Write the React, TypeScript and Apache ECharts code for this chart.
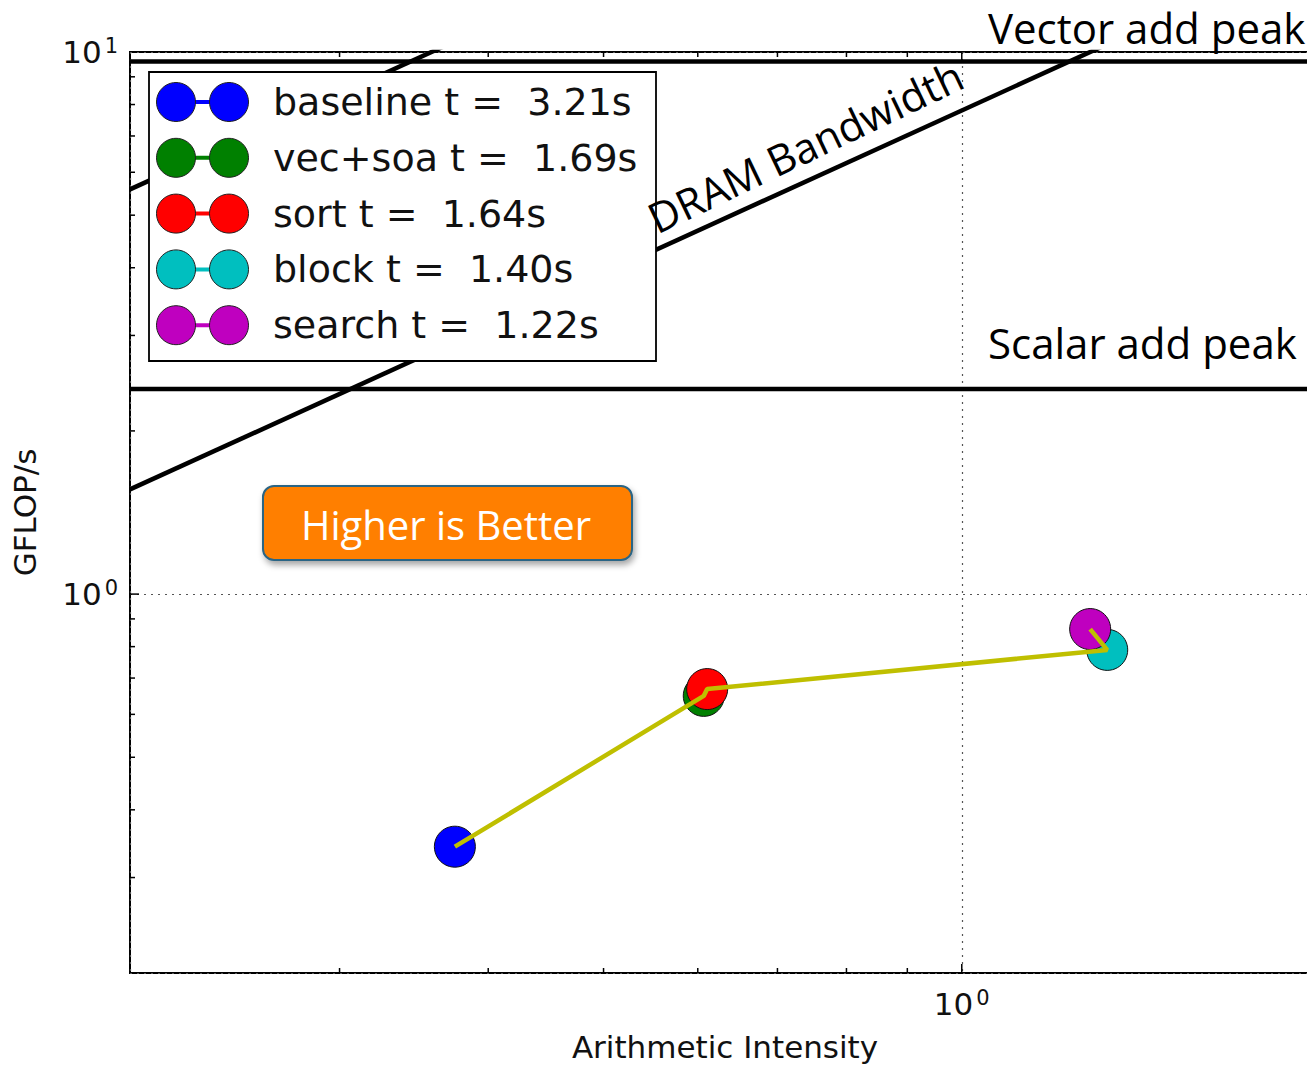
import React, { useEffect, useRef } from 'react';
import * as echarts from 'echarts';

// ---- data ----
const seriesNames = ['baseline', 'vec+soa', 'sort', 'block', 'search'];
const runTimes = ['3.21s', '1.69s', '1.64s', '1.40s', '1.22s'];
const intensity = [0.375, 0.607, 0.611, 1.325, 1.282];
const gflops = [0.342, 0.649, 0.668, 0.789, 0.862];
const colors = ['#0000ff', '#008000', '#ff0000', '#00bfbf', '#bf00bf'];

const vectorPeak = 9.6;
const scalarPeak = 2.39;
const dramBandwidth = 7.8;
const cacheBandwidth = 27.9;

const xRange = [0.2, 2];
const yRange = [0.2, 10];
const xMajorTicks = [1];
const xMinorTicks = [0.3, 0.4, 0.5, 0.6, 0.7, 0.8, 0.9];
const yMajorTicks = [1];
const yMinorTicks = [0.3, 0.4, 0.5, 0.6, 0.7, 0.8, 0.9, 2, 3, 4, 5, 6, 7, 8, 9];

const MPL = 'DejaVu Sans';
const PPT = 'Open Sans';

function pow10Label(v: number) {
  const e = Math.log10(v);
  if (Math.abs(e - Math.round(e)) > 1e-6) return '';
  return `{b|10}{s|${Math.round(e)}}`;
}

const labelRich = {
  b: { fontSize: 31, fontFamily: MPL, color: '#111' },
  s: { fontSize: 21, fontFamily: MPL, color: '#111', verticalAlign: 'top', padding: [0, 0, 12, 3] },
};

function buildOption() {
  const tickStyle = { stroke: '#000', lineWidth: 1.5 };
  const xTickData = xMinorTicks.map((v) => [v, yRange[0], 0]).concat(xMajorTicks.map((v) => [v, yRange[0], 1]));
  const yTickData = yMinorTicks.map((v) => [xRange[0], v, 0]).concat(yMajorTicks.map((v) => [xRange[0], v, 1]));

  const roof = (data: number[][]) => ({
    type: 'line',
    data,
    symbol: 'none',
    silent: true,
    clip: true,
    z: 2,
    lineStyle: { color: '#000', width: 4.5 },
  });

  const series: any[] = [
    roof([[xRange[0], vectorPeak], [xRange[1], vectorPeak]]),
    roof([[xRange[0], scalarPeak], [xRange[1], scalarPeak]]),
    roof([[xRange[0], dramBandwidth * xRange[0]], [xRange[1], dramBandwidth * xRange[1]]]),
    roof([[xRange[0], cacheBandwidth * xRange[0]], [xRange[1], cacheBandwidth * xRange[1]]]),
  ];

  seriesNames.forEach((name, i) => {
    series.push({
      type: 'scatter',
      name,
      data: [[intensity[i], gflops[i]]],
      symbol: 'circle',
      symbolSize: 41,
      z: 3,
      itemStyle: { color: colors[i], borderColor: '#111', borderWidth: 1, opacity: 1 },
    });
  });

  series.push({
    type: 'line',
    name: 'path',
    data: intensity.map((x, i) => [x, gflops[i]]),
    symbol: 'none',
    z: 4,
    lineStyle: { color: '#bfbf00', width: 4.5 },
  });

  series.push({
    type: 'custom',
    silent: true,
    z: 6,
    data: xTickData,
    renderItem: (_p: any, api: any) => {
      const x = api.value(0);
      const len = api.value(2) ? 9 : 5;
      const b = api.coord([x, yRange[0]]);
      const t = api.coord([x, yRange[1]]);
      return {
        type: 'group',
        children: [
          { type: 'line', shape: { x1: b[0], y1: b[1], x2: b[0], y2: b[1] - len }, style: tickStyle },
          { type: 'line', shape: { x1: t[0], y1: t[1], x2: t[0], y2: t[1] + len }, style: tickStyle },
        ],
      };
    },
  });
  series.push({
    type: 'custom',
    silent: true,
    z: 6,
    data: yTickData,
    renderItem: (_p: any, api: any) => {
      const y = api.value(1);
      const len = api.value(2) ? 9 : 5;
      const l = api.coord([xRange[0], y]);
      const r = api.coord([xRange[1], y]);
      return {
        type: 'group',
        children: [
          { type: 'line', shape: { x1: l[0], y1: l[1], x2: l[0] + len, y2: l[1] }, style: tickStyle },
          { type: 'line', shape: { x1: r[0], y1: r[1], x2: r[0] - len, y2: r[1] }, style: tickStyle },
        ],
      };
    },
  });

  // legend (matplotlib-style, two markers joined by a line)
  const Z = 100;
  const legendChildren: any[] = [
    {
      type: 'rect',
      z: Z,
      shape: { x: 149, y: 72, width: 507, height: 289 },
      style: { fill: '#fff', stroke: '#000', lineWidth: 1.8 },
    },
  ];
  seriesNames.forEach((name, i) => {
    const cy = 102 + i * 55.8;
    legendChildren.push(
      { type: 'line', z: Z + 1, shape: { x1: 176, y1: cy, x2: 229, y2: cy }, style: { stroke: colors[i], lineWidth: 4 } },
      { type: 'circle', z: Z + 2, shape: { cx: 176, cy, r: 19.5 }, style: { fill: colors[i], stroke: '#222', lineWidth: 1 } },
      { type: 'circle', z: Z + 2, shape: { cx: 229, cy, r: 19.5 }, style: { fill: colors[i], stroke: '#222', lineWidth: 1 } },
      {
        type: 'text',
        z: Z + 2,
        x: 273,
        y: cy,
        style: {
          text: `${name} t =  ${runTimes[i]}`,
          fontSize: 38,
          fontFamily: MPL,
          fill: '#111',
          align: 'left',
          verticalAlign: 'middle',
          textAlign: 'left',
          textVerticalAlign: 'middle',
        },
      }
    );
  });

  const annot = (text: string, x: number, y: number) => ({
    type: 'text',
    z: Z,
    x,
    y,
    style: {
      text,
      fontSize: 42,
      fontFamily: PPT,
      fill: '#000',
      align: 'left',
      verticalAlign: 'middle',
      textAlign: 'left',
      textVerticalAlign: 'middle',
    },
  });

  const graphic: any[] = [
    ...legendChildren,
    annot('Vector add peak', 988, 27),
    annot('Scalar add peak', 988, 342),
    {
      type: 'text',
      z: Z,
      x: 805,
      y: 146,
      rotation: (25.5 * Math.PI) / 180,
      style: {
        text: 'DRAM Bandwidth',
        fontSize: 42,
        fontFamily: PPT,
        fill: '#000',
        align: 'center',
        verticalAlign: 'middle',
        textAlign: 'center',
        textVerticalAlign: 'middle',
      },
    },
    {
      type: 'rect',
      z: Z,
      shape: { x: 263, y: 486, width: 369, height: 74, r: 11 },
      style: {
        fill: '#ff7f00',
        stroke: '#2c6585',
        lineWidth: 2,
        shadowBlur: 6,
        shadowOffsetX: 2,
        shadowOffsetY: 4,
        shadowColor: 'rgba(0,0,0,0.35)',
      },
    },
    {
      type: 'text',
      z: Z + 1,
      x: 446,
      y: 524,
      style: {
        text: 'Higher is Better',
        fontSize: 40,
        fontFamily: PPT,
        fill: '#fff',
        align: 'center',
        verticalAlign: 'middle',
        textAlign: 'center',
        textVerticalAlign: 'middle',
      },
    },
  ];

  return {
    animation: false,
    backgroundColor: '#fff',
    grid: {
      left: 130,
      top: 52,
      right: 10,
      bottom: 96,
      show: true,
      borderColor: '#000',
      borderWidth: 2,
      backgroundColor: 'transparent',
    },
    xAxis: {
      type: 'log',
      logBase: 10,
      min: xRange[0],
      max: xRange[1],
      name: 'Arithmetic Intensity',
      nameLocation: 'middle',
      nameGap: 58,
      nameTextStyle: { fontSize: 31, fontFamily: MPL, color: '#111', verticalAlign: 'top' },
      axisLine: { show: false },
      axisTick: { show: false },
      axisLabel: { formatter: pow10Label, rich: labelRich, margin: 14 },
      splitLine: { show: true, lineStyle: { color: '#555', width: 1.2, type: [2, 5] } },
    },
    yAxis: {
      type: 'log',
      logBase: 10,
      min: yRange[0],
      max: yRange[1],
      name: 'GFLOP/s',
      nameLocation: 'middle',
      nameGap: 90,
      nameTextStyle: { fontSize: 31, fontFamily: MPL, color: '#111' },
      axisLine: { show: false },
      axisTick: { show: false },
      axisLabel: { formatter: pow10Label, rich: labelRich, margin: 12 },
      splitLine: { show: true, lineStyle: { color: '#555', width: 1.2, type: [2, 5] } },
    },
    series,
    graphic,
  };
}

export default function App() {
  const ref = useRef<HTMLDivElement>(null);
  useEffect(() => {
    if (!ref.current) return;
    const chart = echarts.init(ref.current, null, { renderer: 'svg' });
    chart.setOption(buildOption() as any);
    return () => chart.dispose();
  }, []);
  return (
    <div
      style={{
        position: 'fixed',
        left: 0,
        top: 0,
        width: 1307,
        height: 1069,
        overflow: 'hidden',
        background: '#fff',
      }}
    >
      <div ref={ref} style={{ width: 1330, height: 1069 }} />
    </div>
  );
}
